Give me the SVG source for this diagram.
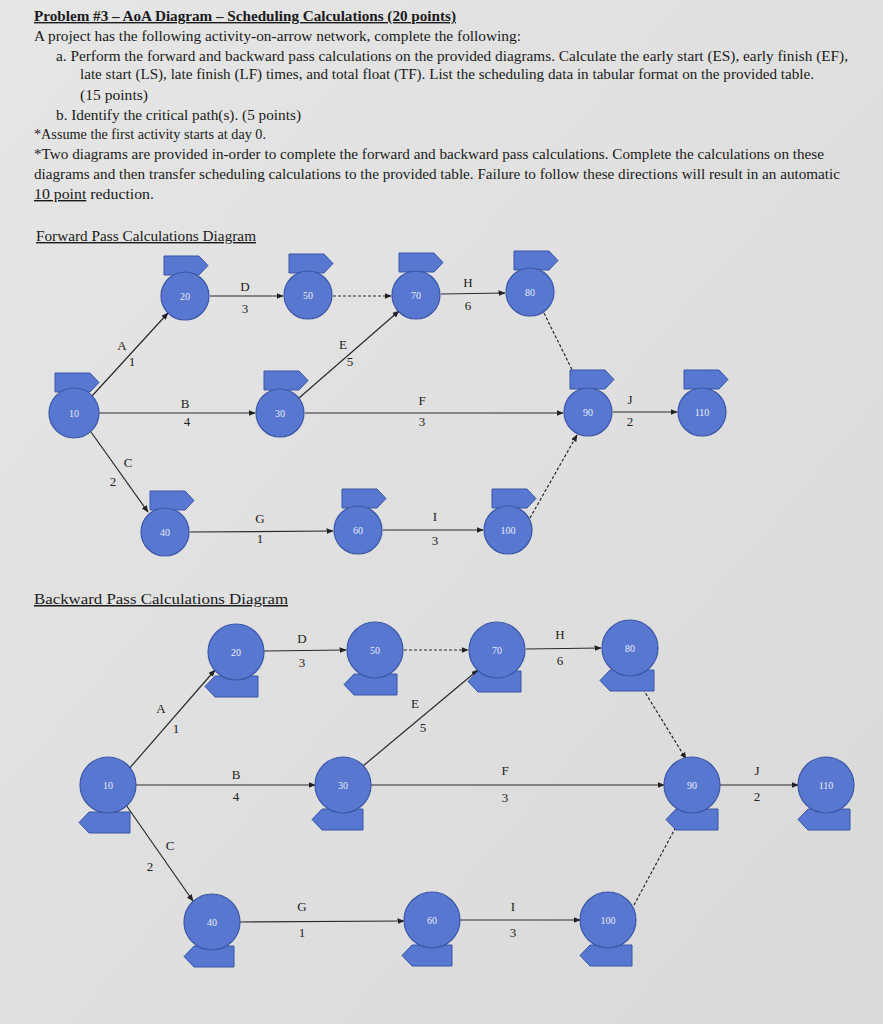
<svg xmlns="http://www.w3.org/2000/svg" width="883" height="1024" viewBox="0 0 883 1024">
<defs>
<marker id="ar" viewBox="0 0 10 10" refX="9" refY="5" markerWidth="6" markerHeight="6" orient="auto"><path d="M0,1 L10,5 L0,9 z" fill="#222"/></marker>
<linearGradient id="bg" x1="0" y1="0" x2="1" y2="1"><stop offset="0" stop-color="#e6e6e6"/><stop offset="1" stop-color="#d9d9d9"/></linearGradient>
</defs>
<style>
.t{font-family:"Liberation Serif","Times New Roman",serif;font-size:14px;fill:#1a1a1a}
.h{font-weight:bold;text-decoration:underline}
.u{text-decoration:underline}
.l{font-family:"Liberation Serif",serif;font-size:13px;fill:#222;text-anchor:middle}
.c{fill:#5777d0;stroke:#3b57a6;stroke-width:1.2}
.g{fill:#5777d0;stroke:#3b57a6;stroke-width:1}
.n{font-family:"Liberation Serif",serif;font-size:10px;fill:#e8ecff;text-anchor:middle}
.e{stroke:#2a2a2a;stroke-width:1.2;fill:none;marker-end:url(#ar)}
.d{stroke-dasharray:3,2}
</style>
<rect width="883" height="1024" fill="url(#bg)"/>
<g id="text">
<text class="t h" x="34" y="21" textLength="422" lengthAdjust="spacingAndGlyphs">Problem #3 – AoA Diagram – Scheduling Calculations (20 points)</text>
<text class="t" x="34" y="41" textLength="487" lengthAdjust="spacingAndGlyphs">A project has the following activity-on-arrow network, complete the following:</text>
<text class="t" x="56" y="61" textLength="792" lengthAdjust="spacingAndGlyphs">a.  Perform the forward and backward pass calculations on the provided diagrams. Calculate the early start (ES), early finish (EF),</text>
<text class="t" x="80" y="79" textLength="734" lengthAdjust="spacingAndGlyphs">late start (LS), late finish (LF) times, and total float (TF). List the scheduling data in tabular format on the provided table.</text>
<text class="t" x="80" y="100" textLength="68" lengthAdjust="spacingAndGlyphs">(15 points)</text>
<text class="t" x="56" y="120" textLength="245" lengthAdjust="spacingAndGlyphs">b.  Identify the critical path(s). (5 points)</text>
<text class="t" x="34" y="139" textLength="232" lengthAdjust="spacingAndGlyphs">*Assume the first activity starts at day 0.</text>
<text class="t" x="34" y="159" textLength="790" lengthAdjust="spacingAndGlyphs">*Two diagrams are provided in-order to complete the forward and backward pass calculations. Complete the calculations on these</text>
<text class="t" x="34" y="179" textLength="806" lengthAdjust="spacingAndGlyphs">diagrams and then transfer scheduling calculations to the provided table. Failure to follow these directions will result in an automatic</text>
<text class="t" x="34" y="199" textLength="120" lengthAdjust="spacingAndGlyphs"><tspan class="u">10 point</tspan> reduction.</text>
<text class="t u" x="36" y="241" textLength="220" lengthAdjust="spacingAndGlyphs">Forward Pass Calculations Diagram</text>
<text class="t u" x="34" y="604" textLength="254" lengthAdjust="spacingAndGlyphs" style="font-size:15px">Backward Pass Calculations Diagram</text>
</g>
<g id="connectors">
<line class="e" x1="92" y1="396" x2="168" y2="313"/>
<line class="e" x1="99" y1="413" x2="255" y2="413"/>
<line class="e" x1="91" y1="432" x2="148" y2="512"/>
<line class="e" x1="210" y1="296" x2="283" y2="296"/>
<line class="e d" x1="333" y1="296" x2="391" y2="296"/>
<line class="e" x1="299" y1="398" x2="399" y2="311"/>
<line class="e" x1="305" y1="413" x2="563" y2="413"/>
<line class="e" x1="441" y1="294" x2="505" y2="293"/>
<line class="e d" x1="544" y1="313" x2="581" y2="388"/>
<line class="e" x1="190" y1="532" x2="333" y2="531"/>
<line class="e" x1="383" y1="530" x2="483" y2="530"/>
<line class="e d" x1="530" y1="518" x2="577" y2="435"/>
<line class="e" x1="613" y1="412" x2="677" y2="412"/>
<line class="e" x1="128" y1="770" x2="215" y2="670"/>
<line class="e" x1="135" y1="785" x2="315" y2="785"/>
<line class="e" x1="126" y1="805" x2="193" y2="901"/>
<line class="e" x1="264" y1="651" x2="346" y2="650"/>
<line class="e d" x1="404" y1="650" x2="468" y2="650"/>
<line class="e" x1="363" y1="766" x2="478" y2="670"/>
<line class="e" x1="371" y1="785" x2="664" y2="785"/>
<line class="e" x1="526" y1="649" x2="601" y2="648"/>
<line class="e d" x1="643" y1="689" x2="686" y2="759"/>
<line class="e" x1="240" y1="922" x2="404" y2="921"/>
<line class="e" x1="460" y1="920" x2="580" y2="920"/>
<line class="e d" x1="634" y1="905" x2="684" y2="812"/>
<line class="e" x1="720" y1="785" x2="798" y2="785"/>
</g>
<g id="labels">
<text class="l" x="245" y="291">D</text><text class="l" x="245" y="313">3</text>
<text class="l" x="468" y="287">H</text><text class="l" x="468" y="310">6</text>
<text class="l" x="122" y="350">A</text><text class="l" x="132" y="366">1</text>
<text class="l" x="343" y="349">E</text><text class="l" x="350" y="366">5</text>
<text class="l" x="185" y="408">B</text><text class="l" x="187" y="426">4</text>
<text class="l" x="422" y="405">F</text><text class="l" x="422" y="426">3</text>
<text class="l" x="630" y="404">J</text><text class="l" x="630" y="426">2</text>
<text class="l" x="128" y="467">C</text><text class="l" x="113" y="486">2</text>
<text class="l" x="260" y="523">G</text><text class="l" x="260" y="543">1</text>
<text class="l" x="435" y="521">I</text><text class="l" x="435" y="545">3</text>
<text class="l" x="302" y="643">D</text><text class="l" x="302" y="667">3</text>
<text class="l" x="560" y="639">H</text><text class="l" x="560" y="665">6</text>
<text class="l" x="161" y="713">A</text><text class="l" x="176" y="733">1</text>
<text class="l" x="415" y="708">E</text><text class="l" x="423" y="732">5</text>
<text class="l" x="236" y="779">B</text><text class="l" x="236" y="801">4</text>
<text class="l" x="505" y="775">F</text><text class="l" x="505" y="802">3</text>
<text class="l" x="757" y="775">J</text><text class="l" x="757" y="801">2</text>
<text class="l" x="170" y="850">C</text><text class="l" x="150" y="871">2</text>
<text class="l" x="302" y="911">G</text><text class="l" x="302" y="937">1</text>
<text class="l" x="513" y="911">I</text><text class="l" x="513" y="937">3</text>
</g>
<g id="f10"><path class="g" d="M55,373 H90 L99,382.5 L90,392 H55 Z"/><circle class="c" cx="74" cy="413" r="25"/><text class="n" x="74" y="417">10</text></g>
<g id="f20"><path class="g" d="M164,256 H199 L208,265.5 L199,275 H164 Z"/><circle class="c" cx="185" cy="296" r="24"/><text class="n" x="185" y="300">20</text></g>
<g id="f50"><path class="g" d="M289,254 H324 L333,263.5 L324,273 H289 Z"/><circle class="c" cx="308" cy="295" r="24"/><text class="n" x="308" y="299">50</text></g>
<g id="f70"><path class="g" d="M399,253 H434 L443,262.5 L434,272 H399 Z"/><circle class="c" cx="416" cy="295" r="24"/><text class="n" x="416" y="299">70</text></g>
<g id="f80"><path class="g" d="M514,251 H549 L558,260.5 L549,270 H514 Z"/><circle class="c" cx="530" cy="292" r="24"/><text class="n" x="530" y="296">80</text></g>
<g id="f30"><path class="g" d="M264,371 H299 L308,380.5 L299,390 H264 Z"/><circle class="c" cx="280" cy="413" r="24"/><text class="n" x="280" y="417">30</text></g>
<g id="f90"><path class="g" d="M570,370 H605 L614,379.5 L605,389 H570 Z"/><circle class="c" cx="588" cy="412" r="24"/><text class="n" x="588" y="416">90</text></g>
<g id="f110"><path class="g" d="M684,370 H719 L728,379.5 L719,389 H684 Z"/><circle class="c" cx="702" cy="412" r="24"/><text class="n" x="702" y="416">110</text></g>
<g id="f40"><path class="g" d="M150,491 H185 L194,500.5 L185,510 H150 Z"/><circle class="c" cx="165" cy="532" r="24"/><text class="n" x="165" y="536">40</text></g>
<g id="f60"><path class="g" d="M342,489 H377 L386,498.5 L377,508 H342 Z"/><circle class="c" cx="358" cy="530" r="24"/><text class="n" x="358" y="534">60</text></g>
<g id="f100"><path class="g" d="M492,489 H527 L536,498.5 L527,508 H492 Z"/><circle class="c" cx="508" cy="530" r="24"/><text class="n" x="508" y="534">100</text></g>
<g id="b10"><path class="g" d="M89,812 H130 V833 H89 L79,822.5 Z"/><circle class="c" cx="108" cy="785" r="28"/><text class="n" x="108" y="789">10</text></g>
<g id="b20"><path class="g" d="M215,676 H258 V697 H215 L205,686.5 Z"/><circle class="c" cx="236" cy="652" r="28"/><text class="n" x="236" y="656">20</text></g>
<g id="b50"><path class="g" d="M354,674 H397 V695 H354 L344,684.5 Z"/><circle class="c" cx="375" cy="650" r="28"/><text class="n" x="375" y="654">50</text></g>
<g id="b70"><path class="g" d="M478,671 H521 V692 H478 L468,681.5 Z"/><circle class="c" cx="497" cy="650" r="28"/><text class="n" x="497" y="654">70</text></g>
<g id="b80"><path class="g" d="M610,670 H654 V691 H610 L600,680.5 Z"/><circle class="c" cx="630" cy="648" r="28"/><text class="n" x="630" y="652">80</text></g>
<g id="b30"><path class="g" d="M322,809 H363 V830 H322 L312,819.5 Z"/><circle class="c" cx="343" cy="785" r="28"/><text class="n" x="343" y="789">30</text></g>
<g id="b90"><path class="g" d="M676,809 H718 V830 H676 L666,819.5 Z"/><circle class="c" cx="692" cy="785" r="28"/><text class="n" x="692" y="789">90</text></g>
<g id="b110"><path class="g" d="M808,809 H850 V830 H808 L798,819.5 Z"/><circle class="c" cx="826" cy="785" r="28"/><text class="n" x="826" y="789">110</text></g>
<g id="b40"><path class="g" d="M194,946 H234 V967 H194 L184,956.5 Z"/><circle class="c" cx="212" cy="922" r="28"/><text class="n" x="212" y="926">40</text></g>
<g id="b60"><path class="g" d="M412,945 H452 V966 H412 L402,955.5 Z"/><circle class="c" cx="432" cy="920" r="28"/><text class="n" x="432" y="924">60</text></g>
<g id="b100"><path class="g" d="M590,945 H632 V966 H590 L580,955.5 Z"/><circle class="c" cx="608" cy="920" r="28"/><text class="n" x="608" y="924">100</text></g>
</svg>
